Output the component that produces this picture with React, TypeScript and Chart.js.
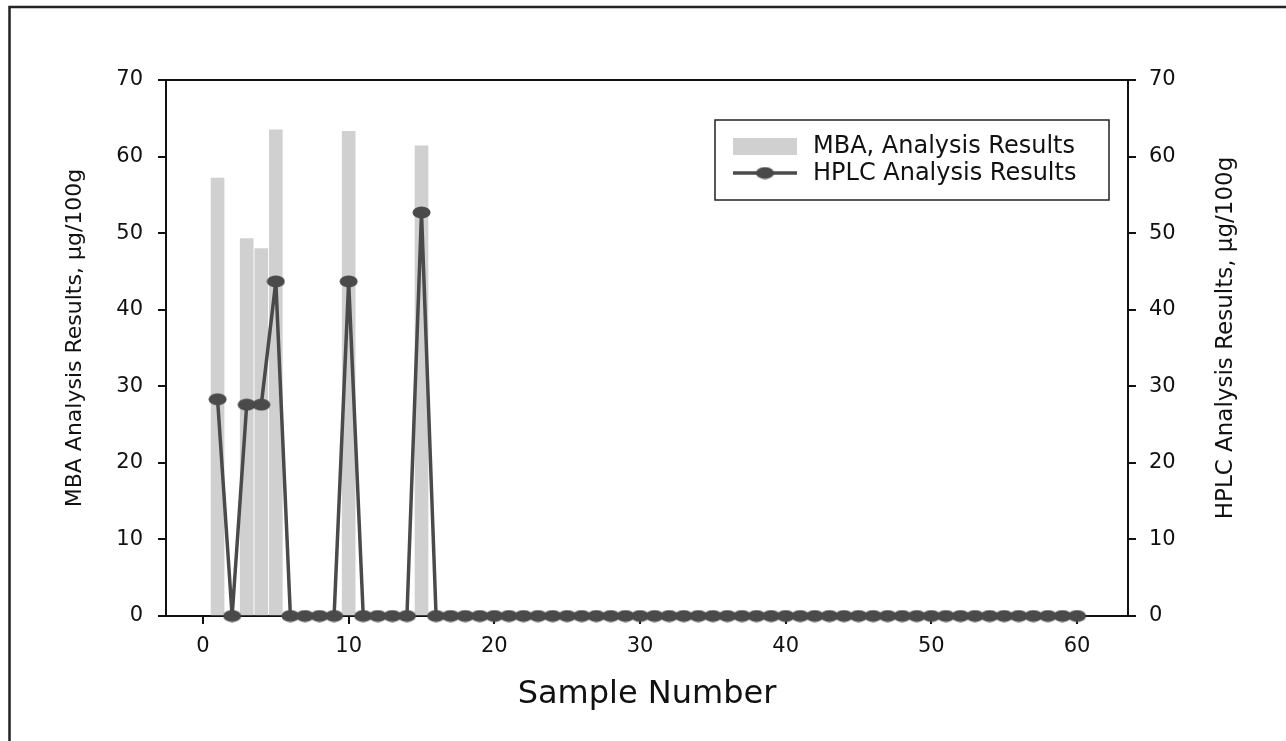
import { useEffect, useRef } from "react";
import { Chart, registerables } from "chart.js";

Chart.register(...registerables);

// ---- data ----
const sampleNumbers = [
  1, 2, 3, 4, 5, 6, 7, 8, 9, 10,
  11, 12, 13, 14, 15, 16, 17, 18, 19, 20,
  21, 22, 23, 24, 25, 26, 27, 28, 29, 30,
  31, 32, 33, 34, 35, 36, 37, 38, 39, 40,
  41, 42, 43, 44, 45, 46, 47, 48, 49, 50,
  51, 52, 53, 54, 55, 56, 57, 58, 59, 60,
];
const mbaResults = [
  57.2, 0, 49.3, 48.0, 63.5, 0, 0, 0, 0, 63.3,
  0, 0, 0, 0, 61.4, 0, 0, 0, 0, 0,
  0, 0, 0, 0, 0, 0, 0, 0, 0, 0,
  0, 0, 0, 0, 0, 0, 0, 0, 0, 0,
  0, 0, 0, 0, 0, 0, 0, 0, 0, 0,
  0, 0, 0, 0, 0, 0, 0, 0, 0, 0,
];
const hplcResults = [
  28.3, 0, 27.6, 27.6, 43.7, 0, 0, 0, 0, 43.7,
  0, 0, 0, 0, 52.7, 0, 0, 0, 0, 0,
  0, 0, 0, 0, 0, 0, 0, 0, 0, 0,
  0, 0, 0, 0, 0, 0, 0, 0, 0, 0,
  0, 0, 0, 0, 0, 0, 0, 0, 0, 0,
  0, 0, 0, 0, 0, 0, 0, 0, 0, 0,
];
const xTickValues = [0, 10, 20, 30, 40, 50, 60];
const yTickValues = [0, 10, 20, 30, 40, 50, 60, 70];

const mbaLabel = "MBA, Analysis Results";
const hplcLabel = "HPLC Analysis Results";
const xTitle = "Sample Number";
const yLeftTitle = "MBA Analysis Results, µg/100g";
const yRightTitle = "HPLC Analysis Results, µg/100g";

// ---- styles ----
const FONT = "'DejaVu Sans', 'Liberation Sans', Arial, sans-serif";
const TEXT = "#111";
const AXIS = "#111";
const BAR = "#d0d0d0";
const LINE = "#4a4a4a";

function makeMarker(): HTMLCanvasElement {
  const c = document.createElement("canvas");
  c.width = 19;
  c.height = 13;
  const g = c.getContext("2d")!;
  g.fillStyle = LINE;
  g.beginPath();
  g.ellipse(9.5, 6.5, 9, 6, 0, 0, Math.PI * 2);
  g.fill();
  return c;
}

export default function App() {
  const ref = useRef<HTMLCanvasElement | null>(null);

  useEffect(() => {
    document.body.style.margin = "0";
    const canvas = ref.current;
    if (!canvas) return;
    const marker = makeMarker();

    const decor = {
      id: "decor",
      beforeDatasetsDraw(chart: any) {
        const { ctx, chartArea: a } = chart;
        ctx.save();
        ctx.strokeStyle = AXIS;
        ctx.lineWidth = 2;
        ctx.strokeRect(a.left, a.top, a.right - a.left, a.bottom - a.top);
        ctx.restore();
      },
      afterDraw(chart: any) {
        const { ctx, chartArea: a } = chart;
        ctx.save();
        // outer frame (top + left edges)
        ctx.strokeStyle = "#222";
        ctx.lineWidth = 2.5;
        ctx.beginPath();
        ctx.moveTo(9.5, 741);
        ctx.lineTo(9.5, 7);
        ctx.lineTo(1286, 7);
        ctx.stroke();

        // axis titles
        ctx.fillStyle = TEXT;
        ctx.textAlign = "center";
        ctx.textBaseline = "middle";
        const cy = (a.top + a.bottom) / 2 - 10;
        ctx.save();
        ctx.translate(75, cy);
        ctx.rotate(-Math.PI / 2);
        ctx.font = `22px ${FONT}`;
        ctx.fillText(yLeftTitle, 0, 0);
        ctx.restore();
        ctx.save();
        ctx.translate(1226, cy);
        ctx.rotate(-Math.PI / 2);
        ctx.font = `23px ${FONT}`;
        ctx.fillText(yRightTitle, 0, 0);
        ctx.restore();
        ctx.font = `32px ${FONT}`;
        ctx.textBaseline = "alphabetic";
        ctx.fillText(xTitle, (a.left + a.right) / 2, 703);

        // legend
        const lx = 715, ly = 120, lw = 394, lh = 80;
        ctx.fillStyle = "#fff";
        ctx.fillRect(lx, ly, lw, lh);
        ctx.strokeStyle = "#222";
        ctx.lineWidth = 1.5;
        ctx.strokeRect(lx, ly, lw, lh);
        ctx.fillStyle = BAR;
        ctx.fillRect(733, 138, 64, 17);
        ctx.strokeStyle = LINE;
        ctx.lineWidth = 3.5;
        ctx.beginPath();
        ctx.moveTo(733, 173);
        ctx.lineTo(797, 173);
        ctx.stroke();
        ctx.drawImage(marker, 765 - marker.width / 2, 173 - marker.height / 2);
        ctx.fillStyle = TEXT;
        ctx.font = `24px ${FONT}`;
        ctx.textAlign = "left";
        ctx.textBaseline = "middle";
        ctx.fillText(mbaLabel, 813, 147);
        ctx.fillText(hplcLabel, 813, 174);
        ctx.restore();
      },
    };

    const tickFont = { family: FONT, size: 21 };
    const gridCfg = {
      display: true,
      drawOnChartArea: false,
      drawTicks: true,
      tickLength: 8,
      color: AXIS,
      lineWidth: 2,
      offset: false,
    };

    const chart = new Chart(canvas, {
      type: "bar",
      data: {
        datasets: [
          {
            type: "line",
            label: hplcLabel,
            data: sampleNumbers.map((s, i) => ({ x: s, y: hplcResults[i] })),
            yAxisID: "y1",
            borderColor: LINE,
            borderWidth: 3.5,
            pointStyle: marker as any,
            pointRadius: 6,
            pointBackgroundColor: LINE,
            pointBorderColor: LINE,
            tension: 0,
            clip: false as any,
            order: 0,
          } as any,
          {
            type: "bar",
            label: mbaLabel,
            data: sampleNumbers.map((s, i) => ({ x: s, y: mbaResults[i] })),
            yAxisID: "y",
            backgroundColor: BAR,
            borderWidth: 0,
            barThickness: 13,
            order: 1,
          } as any,
        ],
      },
      options: {
        responsive: false,
        animation: false,
        devicePixelRatio: 1,
        events: [],
        layout: { padding: { top: 80, left: 0, right: 0, bottom: 0 } },
        plugins: {
          legend: { display: false },
          tooltip: { enabled: false },
          title: { display: false },
        },
        scales: {
          x: {
            type: "linear",
            position: "bottom",
            min: -2.54,
            max: 63.5,
            offset: false,
            grid: gridCfg,
            border: { display: false },
            ticks: { font: tickFont, color: TEXT, padding: 10, maxRotation: 0 },
            afterBuildTicks: (s: any) => {
              s.ticks = xTickValues.map((v) => ({ value: v }));
            },
            afterFit: (s: any) => {
              s.height = 125;
            },
          },
          y: {
            type: "linear",
            position: "left",
            min: 0,
            max: 70,
            grid: gridCfg,
            border: { display: false },
            ticks: { font: tickFont, color: TEXT, padding: 15 },
            afterBuildTicks: (s: any) => {
              s.ticks = yTickValues.map((v) => ({ value: v }));
            },
            afterFit: (s: any) => {
              s.width = 166;
            },
          },
          y1: {
            type: "linear",
            position: "right",
            min: 0,
            max: 70,
            grid: gridCfg,
            border: { display: false },
            ticks: { font: tickFont, color: TEXT, padding: 13 },
            afterBuildTicks: (s: any) => {
              s.ticks = yTickValues.map((v) => ({ value: v }));
            },
            afterFit: (s: any) => {
              s.width = 158;
            },
          },
        },
      } as any,
      plugins: [decor],
    });

    return () => chart.destroy();
  }, []);

  return (
    <div style={{ position: "absolute", left: 0, top: 0, width: 1286, height: 741, background: "#fff" }}>
      <canvas ref={ref} width={1286} height={741} style={{ display: "block" }} />
    </div>
  );
}
